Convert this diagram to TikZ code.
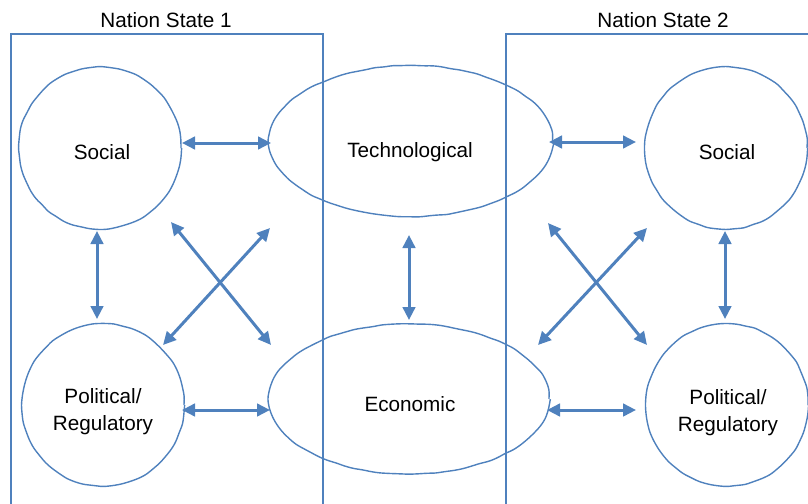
\documentclass[tikz,border=0pt]{standalone}
\usepackage{fontspec}
\setmainfont{Liberation Sans}
\usetikzlibrary{shapes.geometric,arrows.meta,decorations.pathmorphing}
\definecolor{lineblue}{HTML}{4F81BD}
\begin{document}
\begin{tikzpicture}[x=1pt,y=-1pt,
  every node/.style={font=\fontsize{20.7}{27}\selectfont, text=black},
  wobbly/.style={draw=lineblue, line width=1.4pt, decorate,
    decoration={random steps, segment length=9pt, amplitude=0.5pt}, rounded corners=3pt},
  bubble/.style={wobbly, circle, minimum size=162pt, inner sep=0pt},
  oval/.style={wobbly, ellipse, inner sep=0pt},
  framebox/.style={draw=lineblue, line width=1.4pt},
  biarrow/.style={draw=lineblue, line width=3pt, {Triangle[length=13pt,width=12.5pt]}-{Triangle[length=13pt,width=12.5pt]}},
  lbl/.style={align=center}
]
\pgfmathsetseed{7}
\useasboundingbox (0,0) rectangle (808,503);
% frames
\draw[framebox] (11,510) -- (11,34) -- (323,34) -- (323,510);
\draw[framebox] (506,510) -- (506,34) -- (815,34);
\node (t1) at (166,20) {Nation State 1};
\node (t2) at (663,20) {Nation State 2};
% shapes
\node[bubble] (s1) at (100,148) {};
\node[bubble] (p1) at (103,405) {};
\node[bubble] (s2) at (726,148) {};
\node[bubble] (p2) at (727,405) {};
\node[oval, minimum width=283pt, minimum height=151pt] (tech) at (411,141) {};
\node[oval, minimum width=280pt, minimum height=150pt] (econ) at (409,399) {};
% labels
\node (ls1) at (102,152) {Social};
\node (ls2) at (727,152) {Social};
\node (lt) at (410,152) {Technological};
\node (le) at (410,404) {Economic};
\node[lbl] (lp1) at (103,412) {Political/\\Regulatory};
\node[lbl] (lp2) at (728,413) {Political/\\Regulatory};
% connector end points
\coordinate (a1) at (171,222); \coordinate (a2) at (271,345);
\coordinate (b1) at (270,228); \coordinate (b2) at (163,345);
\coordinate (c1) at (548,223); \coordinate (c2) at (647,345);
\coordinate (d1) at (647,228); \coordinate (d2) at (538,345);
\coordinate (v1a) at (97,231); \coordinate (v1b) at (97,319);
\coordinate (v2a) at (725,231); \coordinate (v2b) at (725,319);
\coordinate (v3a) at (409,235); \coordinate (v3b) at (409,320);
\coordinate (h1a) at (182,143); \coordinate (h1b) at (271,143);
\coordinate (h2a) at (182,410); \coordinate (h2b) at (270,410);
\coordinate (h3a) at (549,142); \coordinate (h3b) at (636,142);
\coordinate (h4a) at (547,410); \coordinate (h4b) at (636,410);
% connectors
\draw[biarrow] (h1a) -- (h1b);
\draw[biarrow] (h2a) -- (h2b);
\draw[biarrow] (h3a) -- (h3b);
\draw[biarrow] (h4a) -- (h4b);
\draw[biarrow] (v1a) -- (v1b);
\draw[biarrow] (v2a) -- (v2b);
\draw[biarrow] (v3a) -- (v3b);
\draw[biarrow] (a1) -- (a2);
\draw[biarrow] (b1) -- (b2);
\draw[biarrow] (c1) -- (c2);
\draw[biarrow] (d1) -- (d2);
\end{tikzpicture}
\end{document}
